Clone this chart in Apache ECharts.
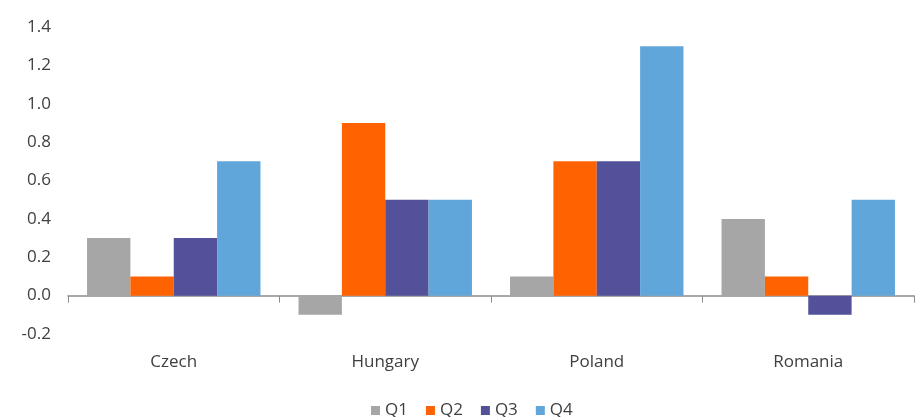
<!DOCTYPE html>
<html>
<head>
<meta charset="utf-8">
<script src="https://cdn.jsdelivr.net/npm/echarts@6/dist/echarts.min.js"></script>
<style>
  html, body { margin: 0; padding: 0; background: #fff; }
  #chart { width: 916px; height: 417px; }
</style>
</head>
<body>
<div id="chart"></div>
<script>
const countries = ['Czech', 'Hungary', 'Poland', 'Romania'];
const q1 = [0.3, -0.1, 0.1, 0.4];
const q2 = [0.1, 0.9, 0.7, 0.1];
const q3 = [0.3, 0.5, 0.7, -0.1];
const q4 = [0.7, 0.5, 1.3, 0.5];
const quarterNames = ['Q1', 'Q2', 'Q3', 'Q4'];
const quarterColors = ['#A6A6A6', '#FF6200', '#525199', '#60A6DA'];

const font = '"Open Sans", "Noto Sans", sans-serif';
const textColor = '#404040';
const chart = echarts.init(document.getElementById('chart'), null, { renderer: 'canvas' });

const seriesData = [q1, q2, q3, q4];
chart.setOption({
  animation: false,
  textStyle: { fontFamily: font },
  grid: { left: 68, right: 2, top: 27, bottom: 83, containLabel: false },
  legend: {
    top: 397,
    left: 366,
    itemWidth: 9,
    itemHeight: 9,
    itemGap: 18,
    icon: 'rect',
    textStyle: { fontSize: 17, color: textColor, fontFamily: font },
    data: quarterNames
  },
  xAxis: {
    type: 'category',
    data: countries,
    axisLine: { lineStyle: { color: '#8C8C8C', width: 1.5 } },
    axisTick: { show: true, length: 7, lineStyle: { color: '#8C8C8C' } },
    axisLabel: { color: textColor, fontSize: 17, margin: 20, fontFamily: font },
    splitLine: { show: false }
  },
  yAxis: {
    type: 'value',
    min: -0.2,
    max: 1.4,
    interval: 0.2,
    axisLine: { show: false },
    axisTick: { show: false },
    splitLine: { show: false },
    axisLabel: {
      color: textColor,
      fontSize: 17,
      margin: 17,
      fontFamily: font,
      formatter: v => v.toFixed(1)
    }
  },
  series: quarterNames.map((name, i) => ({
    name,
    type: 'bar',
    data: seriesData[i],
    barGap: '0%',
    barCategoryGap: '18%',
    itemStyle: { color: quarterColors[i] }
  }))
});
</script>
</body>
</html>
